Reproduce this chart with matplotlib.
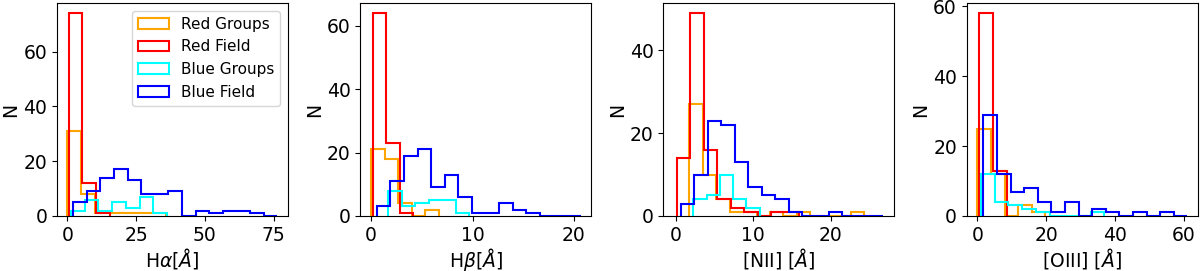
import matplotlib.pyplot as plt
import numpy as np

plt.rcParams['font.size'] = 13.5

labels = ["Red Groups", "Red Field", "Blue Groups", "Blue Field"]
colors = ["orange", "red", "cyan", "blue"]

# H-alpha: counts per bin and (first edge, last edge) of the bins
ha_counts = [
    [31, 8, 1, 1, 1, 1, 1],
    [74, 12, 1],
    [2, 6, 2, 5, 3, 7, 1],
    [5, 9, 14, 17, 13, 8, 8, 9, 0, 2, 1, 2, 2, 1, 0],
]
ha_ranges = [(0.0, 35.7), (0.5, 15.5), (1.3, 36.3), (2.07, 76.35)]

# H-beta
hb_counts = [
    [21, 18, 4, 0, 2],
    [64, 23, 1],
    [8, 3, 4, 5, 5, 1],
    [3, 11, 19, 21, 9, 13, 6, 1, 1, 4, 2, 1, 0, 0, 0],
]
hb_ranges = [(0.0, 6.66), (0.17, 4.14), (1.7, 9.68), (0.56, 20.66)]

# [NII]
n2_counts = [
    [27, 10, 4, 1, 1, 0, 1, 0, 1, 0, 0, 0, 1],
    [14, 49, 16, 4, 2, 1, 0, 1, 1],
    [4, 5, 10, 4, 2],
    [3, 10, 23, 22, 13, 7, 5, 4, 1, 0, 0, 1, 0, 0, 0],
]
n2_ranges = [(1.71, 24.33), (0.09, 15.84), (2.23, 10.83), (0.64, 26.74)]

# [OIII]
o3_counts = [
    [25, 12, 0, 3, 1],
    [58, 13],
    [12, 4, 3, 2, 1, 0, 0, 0, 1],
    [29, 12, 7, 8, 4, 1, 4, 0, 2, 1, 0, 1, 0, 1, 0],
]
o3_ranges = [(0.0, 19.75), (0.6, 8.6), (1.07, 36.89), (1.76, 61.01)]

xlabels = [r'H$\alpha [\AA]$', r'H$\beta [\AA]$', r'[NII] $[\AA]$', r'[OIII] $[\AA]$']
panels = [(ha_counts, ha_ranges), (hb_counts, hb_ranges),
          (n2_counts, n2_ranges), (o3_counts, o3_ranges)]
xlims = [(-3.76, 80.2), (-1.08, 21.7), (-1.63, 28.24), (-3.13, 64.0)]
xticks = [[0, 25, 50, 75], [0, 10, 20], [0, 10, 20], [0, 20, 40, 60]]
yticks = [[0, 20, 40, 60], [0, 20, 40, 60], [0, 20, 40], [0, 20, 40, 60]]

fig, axes = plt.subplots(1, 4, figsize=(12, 2.71), dpi=100)
fig.subplots_adjust(left=0.0475, right=0.998, bottom=0.203, top=0.989, wspace=0.313)

for i, ax in enumerate(axes):
    counts, ranges = panels[i]
    for j in range(4):
        edges = np.linspace(ranges[j][0], ranges[j][1], len(counts[j]) + 1)
        centers = 0.5 * (edges[:-1] + edges[1:])
        ax.hist(centers, bins=edges, weights=counts[j], histtype='step',
                color=colors[j], lw=1.5, label=labels[j])
    ax.set_xlim(xlims[i])
    ax.set_xticks(xticks[i])
    ax.set_yticks(yticks[i])
    ax.set_xlabel(xlabels[i], labelpad=1)
    ax.set_ylabel('N', labelpad=2)

axes[0].legend(loc='upper right', fontsize=11)

plt.savefig('out.png')
